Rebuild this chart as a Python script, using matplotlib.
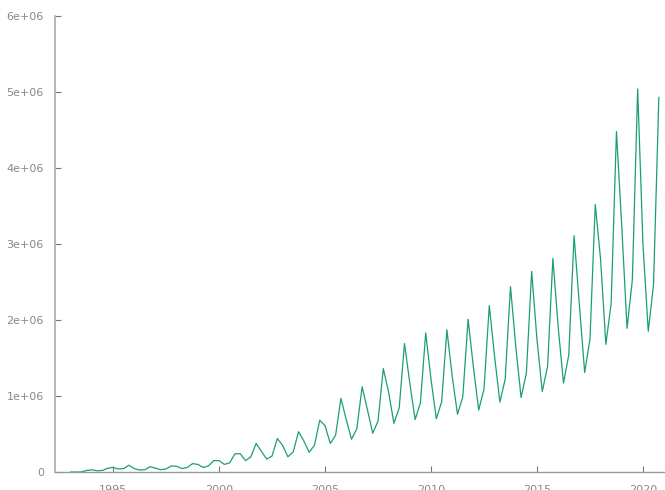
import numpy as np
import matplotlib
matplotlib.use("Agg")
import matplotlib.pyplot as plt

start_year=1993
# quarterly values, Q1..Q4 for each year 1993-2020
values=[0, 0, 0, 20000,
	29000, 16000, 20000, 50000,
	60000, 40000, 45000, 90000,
	45000, 26000, 30000, 70000,
	50000, 30000, 40000, 80000,
	75000, 45000, 60000, 110000,
	100000, 60000, 80000, 150000,
	150000, 100000, 120000, 240000,
	240000, 150000, 200000, 375000,
	270000, 170000, 210000, 440000,
	350000, 200000, 265000, 530000,
	410000, 260000, 350000, 680000,
	610000, 375000, 485000, 970000,
	690000, 430000, 570000, 1120000,
	820000, 510000, 670000, 1360000,
	1050000, 640000, 845000, 1690000,
	1170000, 690000, 910000, 1830000,
	1220000, 700000, 920000, 1870000,
	1260000, 760000, 990000, 2010000,
	1380000, 815000, 1090000, 2190000,
	1520000, 920000, 1220000, 2440000,
	1650000, 980000, 1300000, 2640000,
	1740000, 1060000, 1390000, 2810000,
	1910000, 1170000, 1540000, 3110000,
	2200000, 1310000, 1750000, 3520000,
	2800000, 1680000, 2220000, 4480000,
	3230000, 1890000, 2530000, 5040000,
	3000000, 1850000, 2470000, 4930000]
xticks=[1995, 2000, 2005, 2010, 2015, 2020]
yticks=[0, 1e6, 2e6, 3e6, 4e6, 5e6, 6e6]
ylabels=["0", "1e+06", "2e+06", "3e+06", "4e+06", "5e+06", "6e+06"]

t=start_year+np.arange(len(values))/4.0

fig=plt.figure(figsize=(6.65, 4.9), dpi=100)
ax=fig.add_axes([55/665, 18/490, 610/665, 456/490])
ax.plot(t, values, color="#1b9e77", lw=0.9)

ax.set_xlim(1992.26, 2021.04)
ax.set_ylim(0, 6e6)
ax.set_xticks(xticks)
ax.set_yticks(yticks)
ax.set_yticklabels(ylabels)

for s in ["top", "right"]:
	ax.spines[s].set_visible(False)
ax.spines["left"].set_color("#aaaaaa")
ax.spines["left"].set_linewidth(1.2)
ax.spines["bottom"].set_color("#999999")
ax.spines["bottom"].set_linewidth(1.0)
ax.spines["bottom"].set_linestyle((0, (1, 1)))
ax.tick_params(direction="in", length=4, width=0.8, color="#777777",
	labelcolor="#888888", labelsize=8)
ax.tick_params(axis="y", pad=8)
ax.tick_params(axis="x", pad=9)

fig.savefig("out.png", dpi=100)
